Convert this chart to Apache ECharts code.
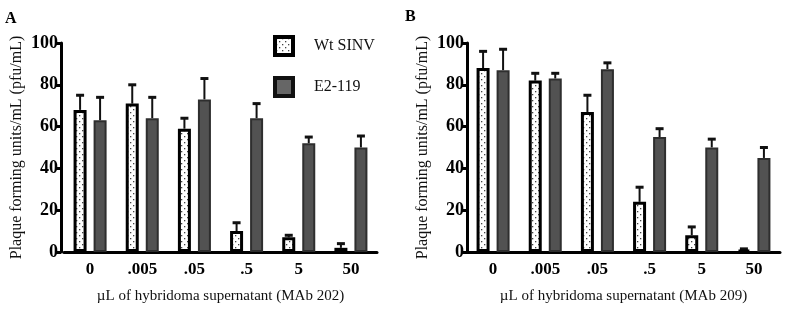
<!DOCTYPE html>
<html><head><meta charset="utf-8">
<script src="https://cdn.jsdelivr.net/npm/echarts@6/dist/echarts.min.js"></script>
<style>html,body{margin:0;padding:0;background:#fff}#c{width:794px;height:315px}</style>
</head><body><div id="c"></div>
<script>
const categories = ['0', '.005', '.05', '.5', '5', '50'];
const yTicks = [0, 20, 40, 60, 80, 100];
const seriesNames = ['Wt SINV', 'E2-119'];
// Panel A (MAb 202)
const aWt = [68, 71, 59, 10, 7, 2];
const aWtErr = [75, 80, 64, 14, 8, 4];
const aE2 = [63, 64, 73, 64, 52, 50];
const aE2Err = [74, 74, 83, 71, 55, 55.5];
// Panel B (MAb 209)
const bWt = [88, 82, 67, 24, 8, 1];
const bWtErr = [96, 85.5, 75, 31, 12, 1.5];
const bE2 = [87, 83, 87.5, 55, 50, 45];
const bE2Err = [97, 85.5, 90.5, 59, 54, 50];
const xNames = ['\u00b5L of hybridoma supernatant (MAb 202)', '\u00b5L of hybridoma supernatant (MAb 209)'];
const yName = 'Plaque forming units/mL (pfu/mL)';

const FONT = 'Liberation Serif';

// dotted pattern
const pc = document.createElement('canvas');
pc.width = 6; pc.height = 6;
const g = pc.getContext('2d');
g.fillStyle = '#fff'; g.fillRect(0, 0, 6, 6);
g.fillStyle = '#444';
g.fillRect(1, 1, 1.3, 1.3);
g.fillRect(4, 4, 1.3, 1.3);
const dotFill = { image: pc, repeat: 'repeat' };

const wtStyle = { color: dotFill, borderColor: '#000', borderWidth: 3 };
const e2Style = { color: '#525252', borderColor: '#2e2e2e', borderWidth: 2 };

const chart = echarts.init(document.getElementById('c'), null, { renderer: 'canvas' });

const grids = [
  { left: 64, top: 43, width: 313, height: 209 },
  { left: 467, top: 43, width: 313, height: 209 }
];

function xAxis(i) {
  return {
    type: 'category', gridIndex: i, data: categories,
    name: xNames[i], nameLocation: 'middle', nameGap: 37,
    nameTextStyle: { fontFamily: FONT, fontSize: 15, color: '#111' },
    axisLine: { lineStyle: { color: '#000', width: 3 } },
    axisTick: { alignWithLabel: true, length: 7, lineStyle: { color: '#000', width: 3 } },
    axisLabel: { fontFamily: FONT, fontWeight: 'bold', fontSize: 17, color: '#000', margin: 9 },
    splitLine: { show: false }
  };
}
function yAxis(i) {
  return {
    type: 'value', gridIndex: i, min: 0, max: 100, interval: 20,
    offset: i === 0 ? 3 : 0,
    name: yName, nameLocation: 'middle', nameGap: 36,
    nameTextStyle: { fontFamily: FONT, fontSize: 16, color: '#111' },
    axisLine: { show: true, lineStyle: { color: '#000', width: 3 } },
    axisTick: { show: true, length: 5, lineStyle: { color: '#000', width: 3 } },
    axisLabel: { fontFamily: FONT, fontWeight: 'bold', fontSize: 18, color: '#000', margin: 3,
      formatter: v => yTicks.includes(v) ? String(v) : '' },
    splitLine: { show: false }
  };
}
function bar(i, name, data, style) {
  return { type: 'bar', name, xAxisIndex: i, yAxisIndex: i, data,
    barWidth: 13, barGap: '54%', itemStyle: style, z: 3, silent: true };
}
function err(i, vals, errs, dx) {
  return {
    type: 'custom', xAxisIndex: i, yAxisIndex: i, z: 2, silent: true,
    data: vals.map((v, k) => [k, v, errs[k]]),
    encode: { x: 0, y: [1, 2] },
    renderItem: (params, api) => {
      const base = api.coord([api.value(0), api.value(1)]);
      const top = api.coord([api.value(0), api.value(2)]);
      const x = base[0] + dx;
      return { type: 'group', children: [
        { type: 'line', shape: { x1: x, y1: base[1], x2: x, y2: top[1] }, style: { stroke: '#111', lineWidth: 2 } },
        { type: 'line', shape: { x1: x - 4, y1: top[1], x2: x + 4, y2: top[1] }, style: { stroke: '#111', lineWidth: 3 } }
      ] };
    }
  };
}

chart.setOption({
  animation: false,
  backgroundColor: '#fff',
  grid: grids,
  xAxis: [xAxis(0), xAxis(1)],
  yAxis: [yAxis(0), yAxis(1)],
  legend: {
    left: 273, top: 35, padding: 0, orient: 'vertical', itemWidth: 18, itemHeight: 18, itemGap: 19,
    icon: 'rect', selectedMode: false,
    textStyle: { fontFamily: FONT, fontSize: 16, color: '#111', padding: [0, 0, 0, 16] },
    data: [
      { name: seriesNames[0], itemStyle: { color: dotFill, borderColor: '#000', borderWidth: 4 } },
      { name: seriesNames[1], itemStyle: { color: '#666', borderColor: '#111', borderWidth: 4 } }
    ]
  },
  graphic: [
    { type: 'text', left: 5, top: 11, style: { text: 'A', font: 'bold 16px "Liberation Serif"', fill: '#000' } },
    { type: 'text', left: 405, top: 9, style: { text: 'B', font: 'bold 16px "Liberation Serif"', fill: '#000' } }
  ],
  series: [
    bar(0, seriesNames[0], aWt, wtStyle),
    bar(0, seriesNames[1], aE2, e2Style),
    err(0, aWt, aWtErr, -10),
    err(0, aE2, aE2Err, 10),
    bar(1, seriesNames[0], bWt, wtStyle),
    bar(1, seriesNames[1], bE2, e2Style),
    err(1, bWt, bWtErr, -10),
    err(1, bE2, bE2Err, 10)
  ]
});
</script></body></html>
